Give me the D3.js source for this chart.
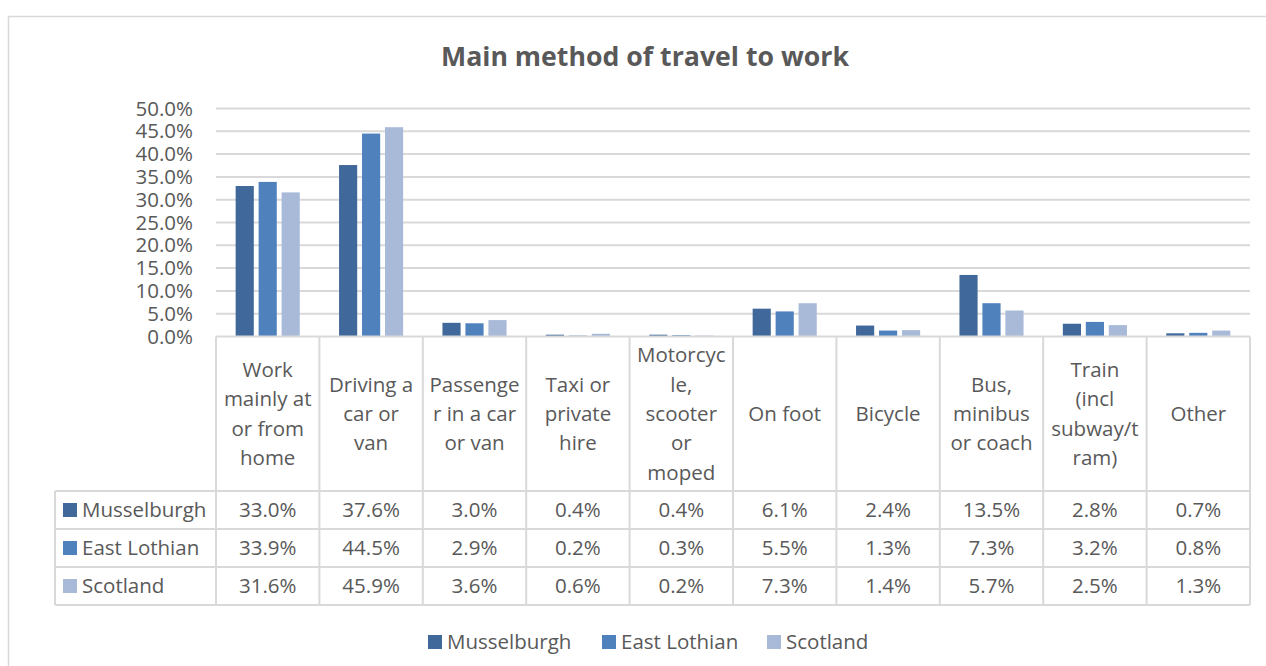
<!DOCTYPE html>
<html>
<head>
<meta charset="utf-8">
<script src="https://cdn.jsdelivr.net/npm/d3@7"></script>
<style>
  html, body { margin: 0; padding: 0; background: #fff; }
  svg { display: block; }
  text { font-family: "Open Sans", Lato, sans-serif; fill: #595959; }
</style>
</head>
<body>
<svg id="chart" width="1266" height="666"></svg>
<script>
// Travel-to-work mode categories (pre-wrapped as shown in the table header)
const categories = [
  ["Work", "mainly at", "or from", "home"],
  ["Driving a", "car or", "van"],
  ["Passenge", "r in a car", "or van"],
  ["Taxi or", "private", "hire"],
  ["Motorcyc", "le,", "scooter", "or", "moped"],
  ["On foot"],
  ["Bicycle"],
  ["Bus,", "minibus", "or coach"],
  ["Train", "(incl", "subway/t", "ram)"],
  ["Other"]
];

const seriesNames = ["Musselburgh", "East Lothian", "Scotland"];
const musselburgh = [33.0, 37.6, 3.0, 0.4, 0.4, 6.1, 2.4, 13.5, 2.8, 0.7];
const eastLothian = [33.9, 44.5, 2.9, 0.2, 0.3, 5.5, 1.3, 7.3, 3.2, 0.8];
const scotland    = [31.6, 45.9, 3.6, 0.6, 0.2, 7.3, 1.4, 5.7, 2.5, 1.3];
const seriesValues = [musselburgh, eastLothian, scotland];
const seriesColors = ["#41689a", "#4f81bd", "#a9bad9"];

const yTicks = [0, 5, 10, 15, 20, 25, 30, 35, 40, 45, 50];

const svg = d3.select("#chart");
const gridColor = "#d9d9d9";
const fontSize = "20.5px";
const fmt = v => v.toFixed(1) + "%";

// chart frame
svg.append("rect")
  .attr("x", 8.5).attr("y", 16.5)
  .attr("width", 1300).attr("height", 700)
  .attr("fill", "none").attr("stroke", gridColor).attr("stroke-width", 1.5);

// title
svg.append("text")
  .attr("x", 645).attr("y", 66)
  .attr("text-anchor", "middle")
  .style("font-size", "26.7px").style("font-weight", "bold")
  .text("Main method of travel to work");

const plotLeft = 216, plotRight = 1250;
const x0 = d3.scaleBand().domain(d3.range(categories.length)).range([plotLeft, plotRight]).padding(0);
const x1 = d3.scaleBand().domain(d3.range(seriesNames.length))
  .range([x0.bandwidth() * 0.19, x0.bandwidth() * 0.81]).paddingInner(0.21);
const y = d3.scaleLinear().domain([0, 50]).range([336.5, 108.5]);

// gridlines
svg.append("g")
  .selectAll("line").data(yTicks.filter(t => t > 0)).join("line")
  .attr("x1", plotLeft).attr("x2", plotRight)
  .attr("y1", d => y(d)).attr("y2", d => y(d))
  .attr("stroke", gridColor).attr("stroke-width", 2);

// y axis labels
const yAxis = d3.axisLeft(y).tickValues(yTicks).tickFormat(d => d.toFixed(1) + "%").tickSize(0).tickPadding(0);
const ya = svg.append("g").attr("transform", "translate(193,0)").call(yAxis);
ya.select(".domain").remove();
ya.selectAll("text").style("font-size", fontSize).style("fill", "#595959")
  .style("font-family", "'Open Sans', Lato, sans-serif");

// bars
const groups = svg.append("g").selectAll("g").data(seriesValues).join("g")
  .attr("fill", (d, i) => seriesColors[i]);
groups.each(function(vals, si) {
  d3.select(this).selectAll("rect").data(vals).join("rect")
    .attr("x", (v, ci) => x0(ci) + x1(si))
    .attr("width", x1.bandwidth())
    .attr("y", v => y(v))
    .attr("height", v => y(0) - y(v));
});

// data table
const headerTop = 336.5, headerBottom = 491;
const rowH = 38;
const tableLeft = 55;
const rowTop = i => headerBottom + i * rowH;
const tableBottom = rowTop(seriesNames.length);
const table = svg.append("g").attr("stroke", gridColor).attr("stroke-width", 2);

// horizontal rules
table.append("line").attr("x1", plotLeft).attr("x2", plotRight).attr("y1", headerTop).attr("y2", headerTop);
d3.range(seriesNames.length + 1).forEach(i => {
  table.append("line").attr("x1", tableLeft).attr("x2", plotRight)
    .attr("y1", rowTop(i)).attr("y2", rowTop(i));
});
// vertical rules
d3.range(categories.length + 1).forEach(i => {
  const xx = i < categories.length ? x0(i) : plotRight;
  table.append("line").attr("x1", xx).attr("x2", xx).attr("y1", headerTop).attr("y2", tableBottom);
});
table.append("line").attr("x1", tableLeft).attr("x2", tableLeft).attr("y1", headerBottom).attr("y2", tableBottom);

// category header text
const lineH = 29.3;
const headerMid = (headerTop + headerBottom) / 2;
categories.forEach((lines, ci) => {
  const cx = x0(ci) + x0.bandwidth() / 2;
  const startY = headerMid - (lines.length - 1) * lineH / 2;
  svg.append("g").selectAll("text").data(lines).join("text")
    .attr("x", cx).attr("y", (d, i) => startY + i * lineH)
    .attr("dy", "0.35em").attr("text-anchor", "middle")
    .style("font-size", fontSize).text(d => d);
});

// table rows: legend key, series name, values
seriesNames.forEach((name, si) => {
  const cy = rowTop(si) + rowH / 2;
  svg.append("rect").attr("x", 63).attr("y", cy - 7).attr("width", 14).attr("height", 14)
    .attr("fill", seriesColors[si]);
  svg.append("text").attr("x", 82).attr("y", cy).attr("dy", "0.35em")
    .style("font-size", fontSize).text(name);
  svg.append("g").selectAll("text").data(seriesValues[si]).join("text")
    .attr("x", (v, ci) => x0(ci) + x0.bandwidth() / 2)
    .attr("y", cy).attr("dy", "0.35em").attr("text-anchor", "middle")
    .style("font-size", fontSize).text(v => fmt(v));
});

// bottom legend
const legendX = [428, 602, 767];
const legend = svg.append("g").selectAll("g").data(seriesNames).join("g")
  .attr("transform", (d, i) => `translate(${legendX[i]},642)`);
legend.append("rect").attr("x", 0).attr("y", -7).attr("width", 14).attr("height", 14)
  .attr("fill", (d, i) => seriesColors[i]);
legend.append("text").attr("x", 19).attr("y", 0).attr("dy", "0.35em")
  .style("font-size", fontSize).text(d => d);
</script>
</body>
</html>
